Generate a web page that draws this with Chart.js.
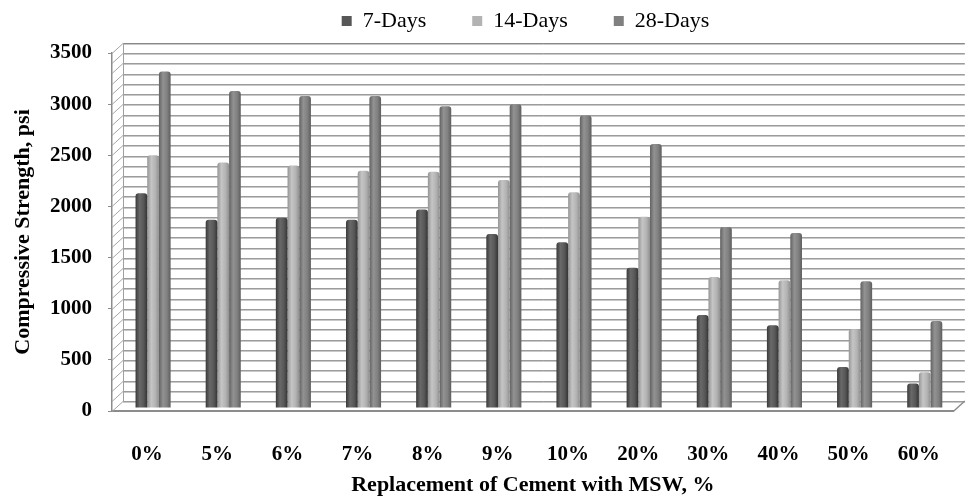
<!DOCTYPE html>
<html>
<head>
<meta charset="utf-8">
<script src="https://cdn.jsdelivr.net/npm/chart.js@4.4.1/dist/chart.umd.min.js"></script>
<style>
  html, body { margin: 0; padding: 0; background: #fff; }
  #wrap { width: 971px; height: 499px; position: relative; }
</style>
</head>
<body>
<div id="wrap"><canvas id="chart"></canvas></div>
<script>
// values (psi)
const categories = ['0%', '5%', '6%', '7%', '8%', '9%', '10%', '20%', '30%', '40%', '50%', '60%'];
const days7  = [2100, 1840, 1860, 1840, 1940, 1700, 1620, 1370, 910, 810, 400, 240];
const days14 = [2470, 2400, 2370, 2320, 2310, 2230, 2110, 1870, 1280, 1250, 770, 350];
const days28 = [3290, 3100, 3050, 3050, 2950, 2970, 2860, 2580, 1770, 1710, 1240, 850];
const seriesNames = ['7-Days', '14-Days', '28-Days'];
const seriesColors = ['#575757', '#b3b3b3', '#808080'];

// fake 3D box: back wall offset and bar depth offset
const DEPTH_X = 11, DEPTH_Y = -10;
const BAR_SHIFT_X = 6, BAR_SHIFT_Y = -3;
const LEGEND_SHIFT = 43;

const SERIF = "'Liberation Serif', 'DejaVu Serif', serif";

function shade(hex, amt) {
    const n = parseInt(hex.slice(1), 16);
    const c = [n >> 16, (n >> 8) & 255, n & 255].map(v => Math.max(0, Math.min(255, v + amt)));
    return 'rgb(' + c.join(',') + ')';
}

// cylinder-ish shading across the bar width
function cylinder(ctx, i) {
    const base = seriesColors[i];
    const el = ctx.element;
    if (!el || !isFinite(el.x) || !isFinite(el.width)) return base;
    const g = ctx.chart.ctx.createLinearGradient(el.x - el.width / 2, 0, el.x + el.width / 2, 0);
    g.addColorStop(0, shade(base, -30));
    g.addColorStop(0.35, shade(base, 18));
    g.addColorStop(0.7, base);
    g.addColorStop(1, shade(base, -35));
    return g;
}

function line(ctx, x1, y1, x2, y2) {
    ctx.beginPath();
    ctx.moveTo(x1, y1);
    ctx.lineTo(x2, y2);
    ctx.stroke();
}

// draws back wall, left wall and floor, then shifts bars to mid depth
const boxWalls = {
    id: 'boxWalls',
    beforeDatasetsDraw(chart) {
        const { ctx, chartArea: a, scales: { y } } = chart;
        ctx.save();
        ctx.lineWidth = 1;
        for (let v = y.min; v <= y.max; v += 100) {
            const yf = Math.round(y.getPixelForValue(v)) + 0.5;
            const yb = yf + DEPTH_Y;
            ctx.strokeStyle = '#c9c9c9';
            line(ctx, a.left + DEPTH_X, yb + 1, a.right + DEPTH_X, yb + 1);
            ctx.strokeStyle = v === y.max ? '#888888' : '#9c9c9c';
            line(ctx, a.left + DEPTH_X, yb, a.right + DEPTH_X, yb);
            ctx.strokeStyle = '#a5a5a5';
            line(ctx, a.left, yf, a.left + DEPTH_X, yb);
        }
        const yTop = y.getPixelForValue(y.max), yZero = y.getPixelForValue(0);
        ctx.strokeStyle = '#a0a0a0';
        line(ctx, a.left + DEPTH_X + 0.5, yTop + DEPTH_Y, a.left + DEPTH_X + 0.5, yZero + DEPTH_Y);
        ctx.strokeStyle = '#8c8c8c';
        ctx.lineWidth = 1.5;
        line(ctx, a.right, yZero, a.right + DEPTH_X, yZero + DEPTH_Y);
        ctx.restore();

        ctx.save();
        ctx.translate(BAR_SHIFT_X, BAR_SHIFT_Y);
    },
    afterDatasetsDraw(chart) {
        chart.ctx.restore();
    }
};

// extra room between legend and plot, legend sits a bit right of centre
const legendGap = {
    id: 'legendGap',
    beforeInit(chart) {
        const leg = chart.legend;
        if (!leg) return;
        const fit = leg.fit;
        leg.fit = function () { fit.call(this); this.height += 11; };
    },
    afterLayout(chart) {
        const leg = chart.legend;
        if (!leg) return;
        leg.left += LEGEND_SHIFT;
        leg.right += LEGEND_SHIFT;
    }
};

const datasets = [days7, days14, days28].map((data, i) => ({
    label: seriesNames[i],
    data: data,
    backgroundColor: ctx => cylinder(ctx, i),
    borderWidth: 0,
    borderRadius: { topLeft: 3, topRight: 3 },
    borderSkipped: 'start',
    categoryPercentage: 0.5,
    barPercentage: 1.0
}));

const chart = new Chart(document.getElementById('chart'), {
    type: 'bar',
    data: { labels: categories, datasets: datasets },
    options: {
        responsive: true,
        maintainAspectRatio: false,
        animation: false,
        layout: { padding: { top: -36, right: 6, left: 0, bottom: 0 } },
        plugins: {
            tooltip: { enabled: false },
            legend: {
                position: 'top',
                labels: {
                    boxWidth: 10,
                    boxHeight: 10,
                    padding: 46,
                    color: '#000',
                    font: { family: SERIF, size: 22 },
                    generateLabels: chart => seriesNames.map((name, i) => ({
                        text: name,
                        fillStyle: seriesColors[i],
                        strokeStyle: seriesColors[i],
                        lineWidth: 0,
                        hidden: !chart.isDatasetVisible(i),
                        datasetIndex: i,
                        fontColor: '#000'
                    }))
                }
            }
        },
        scales: {
            x: {
                grid: { display: true, drawOnChartArea: false, drawTicks: false, tickLength: 0 },
                border: { display: true, color: '#8c8c8c', width: 2 },
                ticks: { color: '#000', padding: 31, font: { family: SERIF, size: 21, weight: 'bold' } },
                title: {
                    display: true,
                    text: 'Replacement of Cement with MSW, %',
                    color: '#000',
                    padding: { top: 0, bottom: 0 },
                    font: { family: SERIF, size: 22, weight: 'bold' }
                },
                afterFit: s => { s.height = 88; }
            },
            y: {
                min: 0,
                max: 3500,
                grid: {
                    drawOnChartArea: false,
                    tickLength: 4,
                    tickColor: c => (c.tick && c.tick.value % 500 === 0) ? '#8c8c8c' : 'rgba(0,0,0,0)'
                },
                border: { display: true, color: '#8c8c8c', width: 1.5 },
                ticks: {
                    stepSize: 100,
                    autoSkip: false,
                    padding: 16,
                    color: '#000',
                    font: { family: SERIF, size: 21, weight: 'bold' },
                    callback: v => (v % 500 === 0 ? v : '')
                },
                title: {
                    display: true,
                    text: 'Compressive Strength, psi',
                    color: '#000',
                    padding: { top: 10, bottom: 0 },
                    font: { family: SERIF, size: 22, weight: 'bold' }
                },
                afterFit: s => { s.width = 112; }
            }
        }
    },
    plugins: [boxWalls, legendGap]
});
// second pass so the bar shading can use the laid-out bar positions
chart.update('none');
</script>
</body>
</html>
